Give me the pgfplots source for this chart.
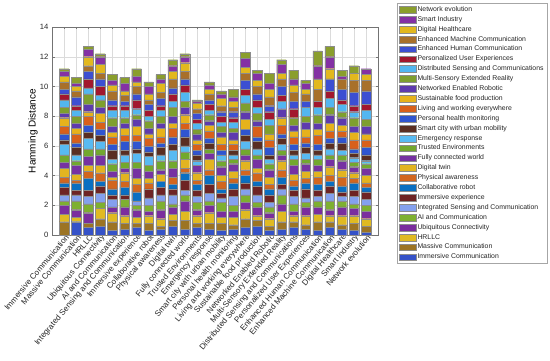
\documentclass[border=0pt]{standalone}
\usepackage{pgfplots}
\pgfplotsset{compat=1.18}
\usepackage{pgfplotstable}
\usepackage{fontspec}
\setmainfont{Liberation Sans}

\definecolor{c1}{HTML}{3552C8}
\definecolor{c2}{HTML}{9C7424}
\definecolor{c3}{HTML}{E0BA22}
\definecolor{c4}{HTML}{7A2E9E}
\definecolor{c5}{HTML}{7EB030}
\definecolor{c6}{HTML}{84A0EE}
\definecolor{c7}{HTML}{6E2424}
\definecolor{c8}{HTML}{0A6FC2}
\definecolor{c9}{HTML}{D2661E}
\definecolor{c10}{HTML}{E2B420}
\definecolor{c11}{HTML}{7632A2}
\definecolor{c12}{HTML}{72A82E}
\definecolor{c13}{HTML}{58BAF2}
\definecolor{c14}{HTML}{5A2E22}
\definecolor{c15}{HTML}{2F55D0}
\definecolor{c16}{HTML}{D8601A}
\definecolor{c17}{HTML}{E6B21C}
\definecolor{c18}{HTML}{5E3AAE}
\definecolor{c19}{HTML}{7E9F2E}
\definecolor{c20}{HTML}{52B6F0}
\definecolor{c21}{HTML}{A2172E}
\definecolor{c22}{HTML}{3C4FD2}
\definecolor{c23}{HTML}{A8702A}
\definecolor{c24}{HTML}{E2B81E}
\definecolor{c25}{HTML}{8431A4}
\definecolor{c26}{HTML}{8A9E2C}
\definecolor{txt}{HTML}{262626}

\pgfplotsset{swatch/.style={legend image code/.code={\draw[##1,draw=black!45,line width=0.3pt] (0bp,-3.4bp) rectangle (17bp,3.4bp);}}}

\pgfplotstableread{
x s1 s2 s3 s4 s5 s6 s7 s8 s9 s10 s11 s12 s13 s14 s15 s16 s17 s18 s19 s20 s21 s22 s23 s24 s25 s26
1 0 0.9 0.5 0.6 0.3 0.4 0.5 0.3 0.4 0.6 0.4 0.5 0.7 0.3 0.4 0.5 0.6 0.3 0.4 0.5 0.4 0.3 0.5 0.4 0.3 0.2
2 0.9 0 0.3 0.5 0.6 0.4 0.3 0.5 0.2 0.4 0.6 0.3 0.4 0.5 0.3 0.6 0.4 0.3 0.5 0.4 0.3 0.6 0.4 0.3 0.2 0.4
3 0.5 0.3 0 0.7 0.6 0.5 0.4 0.8 0.5 0.4 0.6 0.5 0.7 0.4 0.5 0.6 0.3 0.5 0.7 0.4 0.6 0.5 0.4 0.6 0.5 0.2
4 0.6 0.5 0.7 0 0.4 0.6 0.5 0.3 0.6 0.5 0.7 0.4 0.5 0.4 0.4 0.5 0.6 0.4 0.5 0.3 0.6 0.5 0.4 0.6 0.5 0.2
5 0.3 0.6 0.6 0.4 0 0.5 0.3 0.4 0.6 0.2 0.4 0.5 0.3 0.6 0.4 0.5 0.3 0.4 0.6 0.5 0.3 0.4 0.6 0.4 0.3 0.4
6 0.4 0.4 0.5 0.6 0.5 0 0.3 0.5 0.4 0.6 0.3 0.4 0.5 0.3 0.6 0.4 0.5 0.3 0.4 0.5 0.3 0.3 0.4 0.3 0.5 0.4
7 0.5 0.3 0.4 0.5 0.3 0.3 0 0.6 0.5 0.4 0.7 0.4 0.6 0.3 0.5 0.4 0.6 0.5 0.3 0.4 0.6 0.4 0.5 0.3 0.4 0.5
8 0.3 0.5 0.5 0.3 0.4 0.5 0.6 0 0.4 0.3 0.5 0.4 0.6 0.3 0.4 0.5 0.3 0.4 0.5 0.3 0.4 0.4 0.3 0.4 0.5 0.3
9 0.4 0.2 0.5 0.6 0.6 0.4 0.5 0.4 0 0.5 0.3 0.6 0.4 0.5 0.3 0.4 0.6 0.3 0.5 0.4 0.3 0.5 0.4 0.6 0.3 0.3
10 0.6 0.4 0.4 0.5 0.2 0.6 0.4 0.3 0.5 0 0.6 0.5 0.7 0.4 0.5 0.6 0.3 0.5 0.6 0.4 0.5 0.4 0.6 0.5 0.4 0.4
11 0.4 0.6 0.6 0.7 0.4 0.3 0.7 0.5 0.3 0.6 0 0.5 0.4 0.6 0.5 0.4 0.6 0.5 0.4 0.6 0.5 0.4 0.5 0.6 0.4 0.2
12 0.5 0.3 0.5 0.4 0.5 0.4 0.4 0.4 0.3 0.5 0.5 0 0.3 0.4 0.3 0.4 0.3 0.4 0.3 0.4 0.3 0.4 0.3 0.4 0.1 0.1
13 0.4 0.4 0.7 0.5 0.3 0.5 0.6 0.6 0.4 0.7 0.4 0.3 0 0.4 0.3 0.5 0.4 0.3 0.4 0.3 0.4 0.3 0.4 0.3 0.3 0.2
14 0.3 0.5 0.4 0.4 0.6 0.3 0.3 0.3 0.5 0.4 0.6 0.4 0.4 0 0.3 0.4 0.5 0.3 0.4 0.3 0.4 0.3 0.4 0.5 0.3 0.2
15 0.4 0.3 0.5 0.4 0.4 0.6 0.5 0.4 0.3 0.5 0.5 0.3 0.3 0.3 0 0.4 0.3 0.5 0.3 0.4 0.3 0.4 0.3 0.4 0.3 0.5
16 0.5 0.6 0.6 0.5 0.5 0.4 0.4 0.5 0.4 0.6 0.4 0.4 0.5 0.4 0.4 0 0.7 0.5 0.6 0.5 0.4 0.6 0.5 0.4 0.6 0.4
17 0.6 0.4 0.3 0.6 0.3 0.5 0.6 0.3 0.6 0.3 0.6 0.3 0.4 0.5 0.3 0.7 0 0.4 0.5 0.4 0.5 0.4 0.5 0.4 0.5 0.2
18 0.3 0.3 0.5 0.4 0.4 0.3 0.5 0.4 0.3 0.5 0.5 0.4 0.3 0.3 0.5 0.5 0.4 0 0.6 0.4 0.5 0.4 0.6 0.5 0.4 0.7
19 0.4 0.5 0.7 0.5 0.6 0.4 0.3 0.5 0.5 0.6 0.4 0.3 0.4 0.4 0.3 0.6 0.5 0.6 0 0.5 0.4 0.6 0.5 0.4 0.6 0.3
20 0.5 0.4 0.4 0.3 0.5 0.5 0.4 0.3 0.4 0.4 0.6 0.4 0.3 0.3 0.4 0.5 0.4 0.4 0.5 0 0.6 0.5 0.6 0.5 0.4 0.6
21 0.4 0.3 0.6 0.6 0.3 0.3 0.6 0.4 0.3 0.5 0.5 0.3 0.4 0.4 0.3 0.4 0.5 0.5 0.4 0.6 0 0.4 0.5 0.3 0.4 0.2
22 0.3 0.6 0.5 0.5 0.4 0.3 0.4 0.4 0.5 0.4 0.4 0.4 0.3 0.3 0.4 0.6 0.4 0.4 0.6 0.5 0.4 0 0.8 0.7 0.9 1.0
23 0.5 0.4 0.4 0.4 0.6 0.5 0.5 0.3 0.4 0.6 0.5 0.3 0.4 0.4 0.3 0.5 0.5 0.6 0.5 0.6 0.5 0.8 0 0.7 0.8 0.7
24 0.4 0.3 0.6 0.6 0.4 0.3 0.3 0.4 0.6 0.5 0.6 0.4 0.3 0.5 0.4 0.4 0.4 0.5 0.4 0.5 0.3 0.7 0.7 0 0.2 0.4
25 0.3 0.5 0.5 0.5 0.3 0.5 0.4 0.5 0.3 0.4 0.4 0.3 0.3 0.3 0.3 0.6 0.5 0.4 0.6 0.4 0.4 0.9 0.8 0.5 0 0.5
26 0.2 0.4 0.5 0.5 0.4 0.4 0.5 0.3 0.3 0.5 0.5 0.3 0.2 0.4 0.5 0.5 0.4 0.5 0.5 0.6 0.4 0.9 0.7 0.4 0.4 0
}\hdata

\begin{document}
\begin{tikzpicture}
\useasboundingbox (0,0) rectangle (550bp,361bp);
\begin{axis}[
  at={(52bp,126bp)}, anchor=south west,
  width=326bp, height=208bp, scale only axis,
  ybar stacked, bar width=9.66bp,
  xmin=0, xmax=27, ymin=0, ymax=14,
  xtick={1,...,26}, ytick={0,2,...,14},
  xticklabels={Immersive Communication, Massive Communication, HRLLC, Ubiquitous Connectivity, AI and Communication, Integrated Sensing and Communication, Immersive experience, Collaborative robot, Physical awareness, Digital twin, Fully connected world, Trusted Environments, Emergency response, Smart city with urban mobility, Personal health monitoring, Living and working everywhere, Sustainable food production, Networked Enabled Robotic, Multi-Sensory Extended Reality, Distributed Sensing and Communications, Personalized User Experiences, Enhanced Human Communication, Enhanced Machine Communication, Digital Healthcare, Smart Industry, Network evolution},
  x tick label style={rotate=50, anchor=east, font=\fontsize{8.1}{9}\selectfont, text=txt, inner sep=1bp, xshift=2.5bp, yshift=-3bp},
  y tick label style={font=\fontsize{7.7}{9}\selectfont, text=txt},
  /pgf/number format/assume math mode=true,
  ylabel={Hamming Distance},
  ylabel style={font=\fontsize{8.6}{10}\selectfont, text=txt},
  every axis y label/.style={at={(axis description cs:-0.058,0.5)}, rotate=90, anchor=center},
  grid=major, major grid style={black!14, line width=0.4pt},
  axis line style={black!55, line width=0.4pt},
  tick align=inside, major tick length=2.5bp,
  every tick/.style={black!55},
  reverse legend,
  legend cell align=left,
  legend style={at={(1.058,1.115)}, anchor=north west, draw=black!35, line width=0.4pt,
    font=\fontsize{6.9}{8}\selectfont, text=txt, row sep=0.2bp, inner sep=1.5bp,
    nodes={inner sep=1.6bp, text height=5bp, text depth=1.5bp}},
  every axis plot post/.append style={swatch},
]
\pgfplotsinvokeforeach{1,...,26}{
  \addplot[fill=c#1, draw=black!45, line width=0.15pt] table[x=x, y=s#1]{\hdata};
}
\legend{Immersive Communication, Massive Communication, HRLLC, Ubiquitous Connectivity, AI and Communication, Integrated Sensing and Communication, Immersive experience, Collaborative robot, Physical awareness, Digital twin, Fully connected world, Trusted Environments, Emergency response, Smart city with urban mobility, Personal health monitoring, Living and working everywhere, Sustainable food production, Networked Enabled Robotic, Multi-Sensory Extended Reality, Distributed Sensing and Communications, Personalized User Experiences, Enhanced Human Communication, Enhanced Machine Communication, Digital Healthcare, Smart Industry, Network evolution}
\end{axis}
\end{tikzpicture}
\end{document}
